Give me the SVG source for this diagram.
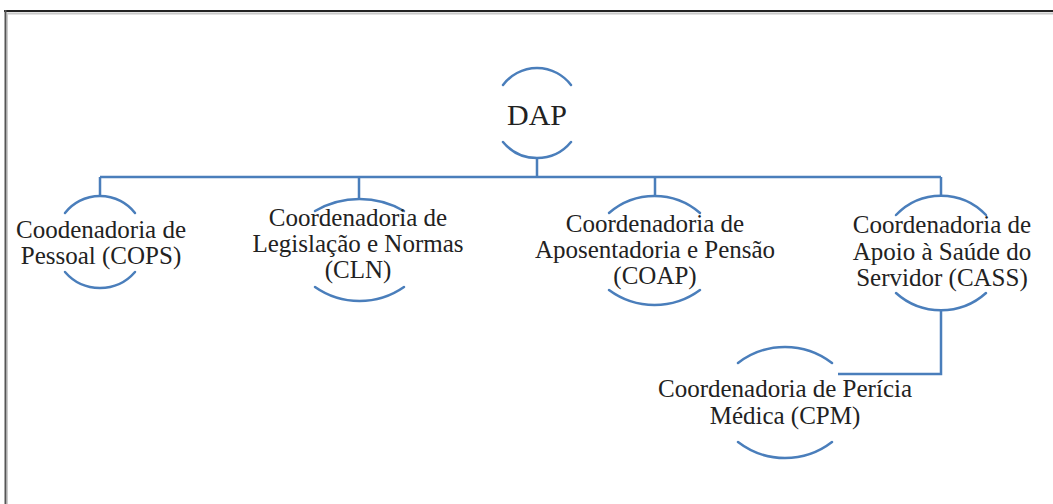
<svg xmlns="http://www.w3.org/2000/svg" width="1053" height="504" viewBox="0 0 1053 504">
<style>
.arc{fill:none;stroke:#4a7ebb;stroke-width:2.5;stroke-linecap:round}
.con{fill:none;stroke:#4a7ebb;stroke-width:2.5}
text{font-family:"Liberation Serif","Times New Roman",serif;font-size:25px;fill:#222;text-anchor:middle}
.big{font-size:30px}
</style>
<rect width="1053" height="504" fill="#fff"/>
<g id="frame">
<line x1="4" y1="11" x2="1053" y2="11" stroke="#222" stroke-width="2"/>
<line x1="7" y1="13.5" x2="1053" y2="13.5" stroke="#c8c8c8" stroke-width="2"/>
<line x1="5.5" y1="10" x2="5.5" y2="504" stroke="#555" stroke-width="2"/>
<line x1="7.5" y1="13" x2="7.5" y2="504" stroke="#ccc" stroke-width="1"/>
</g>
<g id="connectors">
<path class="con" d="M537,158 V177 M100,177 H941 M100,177 V196 M359,177 V200 M655,177 V196 M941,177 V196 M941,310 V374 H838"/>
</g>
<g id="node-dap">
<path class="arc" d="M503,85 A42.5,42.5 0 0 1 571,85"/>
<path class="arc" d="M503,142 A44.1,44.1 0 0 0 571,142"/>
<text class="big" x="537" y="125">DAP</text>
</g>
<g id="node-cops">
<path class="arc" d="M65,213 A44.5,44.5 0 0 1 135,213"/>
<path class="arc" d="M65,272 A46.3,46.3 0 0 0 135,272"/>
<text x="101" y="238">Coodenadoria de</text>
<text x="101" y="264">Pessoal (COPS)</text>
</g>
<g id="node-cln">
<path class="arc" d="M315,211 A88.5,88.5 0 0 1 404,211"/>
<path class="arc" d="M315,287 A77.7,77.7 0 0 0 404,287"/>
<text x="358" y="226">Coordenadoria de</text>
<text x="358" y="252">Legislação e Normas</text>
<text x="358" y="278">(CLN)</text>
</g>
<g id="node-coap">
<path class="arc" d="M609,213 A69.4,69.4 0 0 1 700,213"/>
<path class="arc" d="M609,290 A76.5,76.5 0 0 0 700,290"/>
<text x="655" y="232">Coordenadoria de</text>
<text x="655" y="258">Aposentadoria e Pensão</text>
<text x="655" y="284">(COAP)</text>
</g>
<g id="node-cass">
<path class="arc" d="M896,215 A62.1,62.1 0 0 1 986,215"/>
<path class="arc" d="M896,293 A67.3,67.3 0 0 0 986,293"/>
<text x="942" y="233">Coordenadoria de</text>
<text x="942" y="260">Apoio à Saúde do</text>
<text x="942" y="286">Servidor (CASS)</text>
</g>
<g id="node-cpm">
<path class="arc" d="M738,363 A77,77 0 0 1 832,363"/>
<path class="arc" d="M738,442 A77,77 0 0 0 832,442"/>
<text x="785" y="397">Coordenadoria de Perícia</text>
<text x="785" y="424">Médica (CPM)</text>
</g>
</svg>
